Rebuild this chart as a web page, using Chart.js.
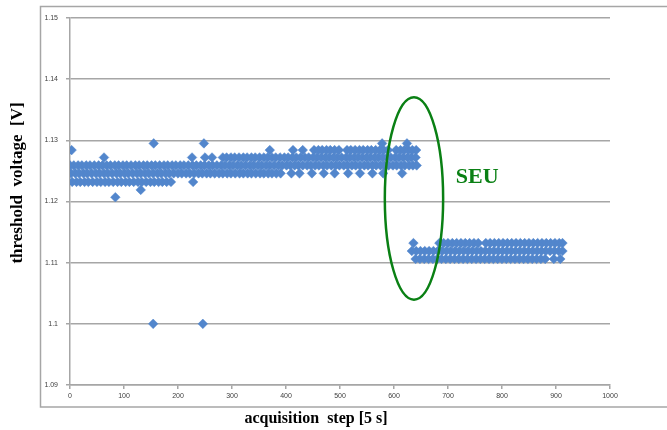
<!DOCTYPE html>
<html>
<head>
<meta charset="utf-8">
<title>threshold voltage</title>
<script src="https://cdn.jsdelivr.net/npm/chart.js@4.4.1/dist/chart.umd.min.js"></script>
<style>
  body { margin: 0; background: #ffffff; }
  canvas { display: block; }
</style>
</head>
<body>
<canvas id="myChart" width="667" height="430"></canvas>
<script>
// Axis ticks
const xTicks = [0, 100, 200, 300, 400, 500, 600, 700, 800, 900, 1000];
const yTicks = [1.09, 1.1, 1.11, 1.12, 1.13, 1.14, 1.15];

// Readings are quantized, so each list holds the acquisition steps seen at one level
const levels = [1.1295, 1.1284, 1.1272, 1.1259, 1.1246, 1.1232, 1.1219, 1.1207, 1.1,
                1.1132, 1.1119, 1.1106];

const steps1295 = [155, 248, 578, 624];
const steps1284 = [3, 370, 413, 431, 452, 460, 467, 475, 482, 490, 498, 513, 520, 528, 536,
  543, 551, 558, 566, 574, 581, 589, 604, 612, 619, 627, 634, 641];
const steps1272 = [63, 226, 250, 263, 283, 290, 298, 305, 313, 321, 328, 336, 343, 351, 359,
  366, 374, 381, 389, 397, 404, 412, 419, 427, 435, 442, 450, 457, 465, 473, 480, 488, 495,
  503, 511, 518, 526, 533, 541, 549, 556, 564, 571, 579, 587, 594, 602, 609, 617, 625, 632, 640];
const steps1259 = [0, 7, 15, 22, 30, 37, 45, 53, 60, 68, 75, 83, 90, 98, 105, 113, 121, 128,
  136, 143, 151, 158, 166, 174, 181, 189, 196, 204, 211, 219, 227, 234, 242, 249, 257, 264,
  272, 280, 287, 295, 302, 310, 317, 325, 333, 340, 348, 355, 363, 370, 378, 386, 393, 401,
  408, 416, 423, 431, 439, 446, 454, 461, 469, 476, 484, 492, 499, 507, 514, 522, 529, 537,
  545, 552, 560, 567, 575, 582, 590, 598, 605, 613, 620, 628, 635, 642];
const steps1246 = [2, 10, 17, 25, 32, 40, 48, 55, 63, 70, 78, 86, 93, 101, 108, 116, 124, 131,
  139, 146, 154, 162, 169, 177, 184, 192, 200, 207, 215, 222, 230, 238, 245, 253, 260, 268,
  276, 283, 291, 298, 306, 314, 321, 329, 336, 344, 352, 359, 367, 374, 382, 390, 410, 425,
  448, 470, 490, 515, 537, 560, 580, 615];
const steps1232 = [4, 12, 19, 27, 34, 42, 50, 57, 65, 72, 80, 88, 95, 103, 110, 118, 126, 133,
  141, 149, 156, 164, 171, 179, 187, 228];
const steps1219 = [131];
const steps1207 = [84];
const steps1100 = [154, 246];

// after the SEU
const steps1132 = [636, 684, 692, 700, 708, 716, 724, 732, 740, 748, 756, 770, 778, 786, 794,
  802, 810, 818, 826, 834, 842, 850, 858, 866, 874, 882, 890, 898, 906, 912];
const steps1119 = [633, 641, 649, 657, 665, 673, 681, 689, 697, 705, 713, 721, 729, 737, 745,
  753, 761, 769, 777, 785, 793, 801, 809, 817, 825, 833, 841, 849, 857, 865, 873, 881, 889,
  897, 905, 912];
const steps1106 = [640, 648, 656, 664, 672, 680, 688, 696, 704, 712, 720, 728, 736, 744, 752,
  760, 768, 776, 784, 792, 800, 808, 816, 824, 832, 840, 848, 856, 864, 872, 880, 896, 908];

const stepLists = [steps1295, steps1284, steps1272, steps1259, steps1246, steps1232, steps1219,
  steps1207, steps1100, steps1132, steps1119, steps1106];

const blue = "rgb(82, 134, 204)";
const gray = "#a6a6a6";
const green = "rgb(10, 128, 20)";

// one scatter dataset per level
var datasets = [];
for (i = 0; i < levels.length; i++) {
  datasets.push({
    label: "level " + levels[i],
    data: stepLists[i].map(function (s) { return { x: s, y: levels[i] }; }),
    pointStyle: "rectRot",
    pointRadius: 4.8,
    pointBackgroundColor: blue,
    pointBorderColor: blue,
    pointBorderWidth: 0.5,
    showLine: false,
  });
}

// Frame, axis titles, and the SEU ellipse with its label
const decorations = {
  id: "decorations",
  beforeDraw(chart) {
    const ctx = chart.ctx;
    ctx.save();
    ctx.strokeStyle = gray;
    ctx.lineWidth = 1.5;
    ctx.strokeRect(40.5, 6.5, 700, 400.5);
    ctx.restore();
  },
  afterDraw(chart) {
    const ctx = chart.ctx;
    const x = chart.scales.x;
    const y = chart.scales.y;
    ctx.save();
    ctx.fillStyle = "#000000";
    ctx.textAlign = "center";
    ctx.textBaseline = "middle";
    ctx.font = "bold 16px 'Liberation Serif'";
    ctx.fillText("acquisition  step [5 s]", 316, 419);
    ctx.font = "bold 17px 'Liberation Serif'";
    ctx.translate(18, 183);
    ctx.rotate(-Math.PI / 2);
    ctx.fillText("threshold  voltage  [V]", 0, 0);
    ctx.restore();

    // ellipse around the jump, placed in data units
    const cx = x.getPixelForValue(637);
    const cy = y.getPixelForValue(1.1205);
    const rx = x.getPixelForValue(637 + 54) - cx;
    const ry = y.getPixelForValue(1.1205) - y.getPixelForValue(1.1205 + 0.01655);
    ctx.save();
    ctx.strokeStyle = green;
    ctx.lineWidth = 2.5;
    ctx.beginPath();
    ctx.ellipse(cx, cy, rx, ry, 0, 0, 2 * Math.PI);
    ctx.stroke();
    ctx.fillStyle = green;
    ctx.font = "bold 22px 'Liberation Serif'";
    ctx.textAlign = "center";
    ctx.textBaseline = "middle";
    ctx.fillText("SEU", x.getPixelForValue(754), y.getPixelForValue(1.1239));
    ctx.restore();
  },
};

const config = {
  type: "scatter",
  data: { datasets: datasets },
  options: {
    responsive: false,
    animation: false,
    layout: { padding: { top: 18, right: 57, left: 0, bottom: 0 } },
    plugins: {
      legend: { display: false },
      tooltip: { enabled: false },
    },
    scales: {
      x: {
        type: "linear",
        min: 0,
        max: 1000,
        afterFit: function (scale) { scale.height = 45; },
        afterBuildTicks: function (scale) {
          scale.ticks = xTicks.map(function (v) { return { value: v }; });
        },
        ticks: {
          font: { family: "'Liberation Sans'", size: 7 },
          color: "#404040",
          padding: 3,
          maxRotation: 0,
          callback: function (v) { return String(v); },
        },
        grid: { drawOnChartArea: false, tickLength: 4, color: gray, lineWidth: 1.5 },
        border: { color: gray, width: 1.5 },
      },
      y: {
        type: "linear",
        min: 1.09,
        max: 1.15,
        afterFit: function (scale) { scale.width = 70; },
        afterBuildTicks: function (scale) {
          scale.ticks = yTicks.map(function (v) { return { value: v }; });
        },
        ticks: {
          font: { family: "'Liberation Sans'", size: 7 },
          color: "#404040",
          padding: 8,
          callback: function (v) { return String(parseFloat(v.toFixed(2))); },
        },
        grid: { tickLength: 4, color: gray, lineWidth: 1.5 },
        border: { color: gray, width: 1.5 },
      },
    },
  },
  plugins: [decorations],
};

myChart = new Chart(document.getElementById("myChart"), config);
</script>
</body>
</html>
